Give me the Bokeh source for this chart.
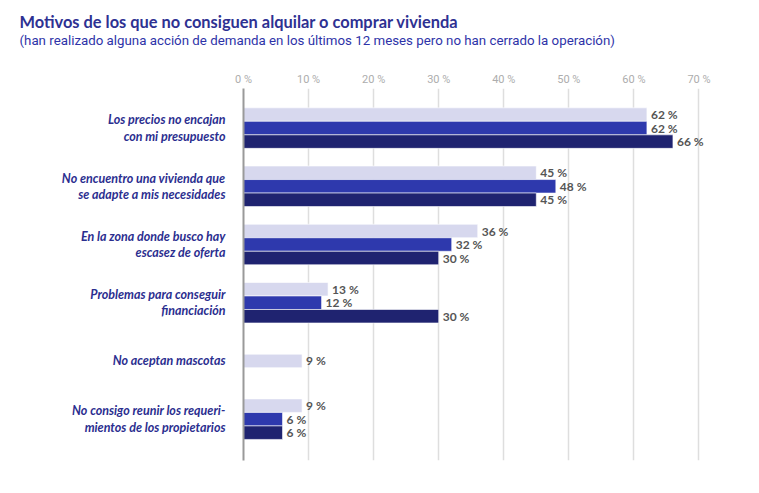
from bokeh.plotting import figure
from bokeh.models import ColumnDataSource, Range1d, FixedTicker, Title, LabelSet
from bokeh.layouts import column
from bokeh.core.properties import value
from bokeh.embed import file_html
from bokeh.resources import INLINE

title_text = "Motivos de los que no consiguen alquilar o comprar vivienda"
subtitle_text = "(han realizado alguna acción de demanda en los últimos 12 meses pero no han cerrado la operación)"
categories = [
    "Los precios no encajan\ncon mi presupuesto",
    "No encuentro una vivienda que\nse adapte a mis necesidades",
    "En la zona donde busco hay\nescasez de oferta",
    "Problemas para conseguir\nfinanciación",
    "No aceptan mascotas",
    "No consigo reunir los requeri-\nmientos de los propietarios",
]
serie_1 = [62, 45, 36, 13, 9, 9]
serie_2 = [62, 48, 32, 12, None, 6]
serie_3 = [66, 45, 30, 30, None, 6]
x_ticks = [0, 10, 20, 30, 40, 50, 60, 70]
colors = ["#d7d8ee", "#2e39ad", "#1f2370"]

series = [serie_1, serie_2, serie_3]
BAR_H = 0.232

# --- header figure holding the title and subtitle ---
head = figure(width=751, height=49, output_backend="svg", toolbar_location=None,
              x_axis_location=None, y_axis_location=None,
              min_border_left=243, min_border_right=33, min_border_top=47, min_border_bottom=0)
head.grid.visible = False
head.outline_line_color = None
sub = Title(text=subtitle_text, text_font="Roboto", text_font_size="13.3px",
            text_font_style="normal", text_color="#2e33a8", align="left",
            offset=-224, standoff=0)
main = Title(text=title_text, text_font="Lato", text_font_size="16.4px",
             text_font_style="bold", text_color="#2e3192", align="left",
             offset=-224, standoff=0)
head.add_layout(sub, "above")
head.add_layout(main, "above")

# --- chart ---
p = figure(width=751, height=436, output_backend="svg", toolbar_location=None,
           x_range=Range1d(0, 73), y_range=Range1d(5.71, -0.68),
           x_axis_location="above", min_border_left=243, min_border_right=33,
           min_border_bottom=25, min_border_top=39)

for si, vals in enumerate(series):
    ys, xs, labels = [], [], []
    for ci, v in enumerate(vals):
        if v is None:
            continue
        present = [k for k in range(3) if series[k][ci] is not None]
        n = len(present)
        pos = present.index(si)
        ys.append(ci + (pos - (n - 1) / 2) * BAR_H)
        xs.append(v)
        labels.append(f"{v} %")
    src = ColumnDataSource(dict(y=ys, x=xs, label=labels))
    p.hbar(y="y", right="x", left=0, height=BAR_H, source=src,
           fill_color=colors[si], line_color="white", line_width=0.6)
    p.add_layout(LabelSet(x="x", y="y", text="label", source=src, x_offset=4,
                          text_baseline="middle", text_font=value("Lato"),
                          text_font_size=value("12px"),
                          text_font_style=value("bold"), text_color=value("#555555")))

xa = p.xaxis[0]
xa.ticker = FixedTicker(ticks=x_ticks)
xa.major_label_overrides = {t: f"{t} %" for t in x_ticks}
xa.axis_line_color = None
xa.major_tick_line_color = None
xa.minor_tick_line_color = None
xa.major_label_text_color = "#adadad"
xa.major_label_text_font = "Roboto"
xa.major_label_text_font_size = "11px"
xa.major_label_standoff = -3

ya = p.yaxis[0]
ya.ticker = FixedTicker(ticks=list(range(len(categories))))
ya.major_label_overrides = {i: c for i, c in enumerate(categories)}
ya.axis_line_color = "#9a9a9a"
ya.axis_line_width = 2
ya.major_tick_line_color = None
ya.minor_tick_line_color = None
ya.major_label_standoff = 12
ya.major_label_text_font = "Lato"
ya.major_label_text_font_style = "bold italic"
ya.major_label_text_font_size = "12.5px"
ya.major_label_text_color = "#2b2e8f"
ya.major_label_text_line_height = 1.1

p.xgrid.grid_line_color = "#dedede"
p.xgrid.grid_line_width = 1.5
p.ygrid.grid_line_color = None
p.outline_line_color = None

layout = column(head, p, spacing=0)
open("out.html", "w").write(file_html(layout, INLINE))
